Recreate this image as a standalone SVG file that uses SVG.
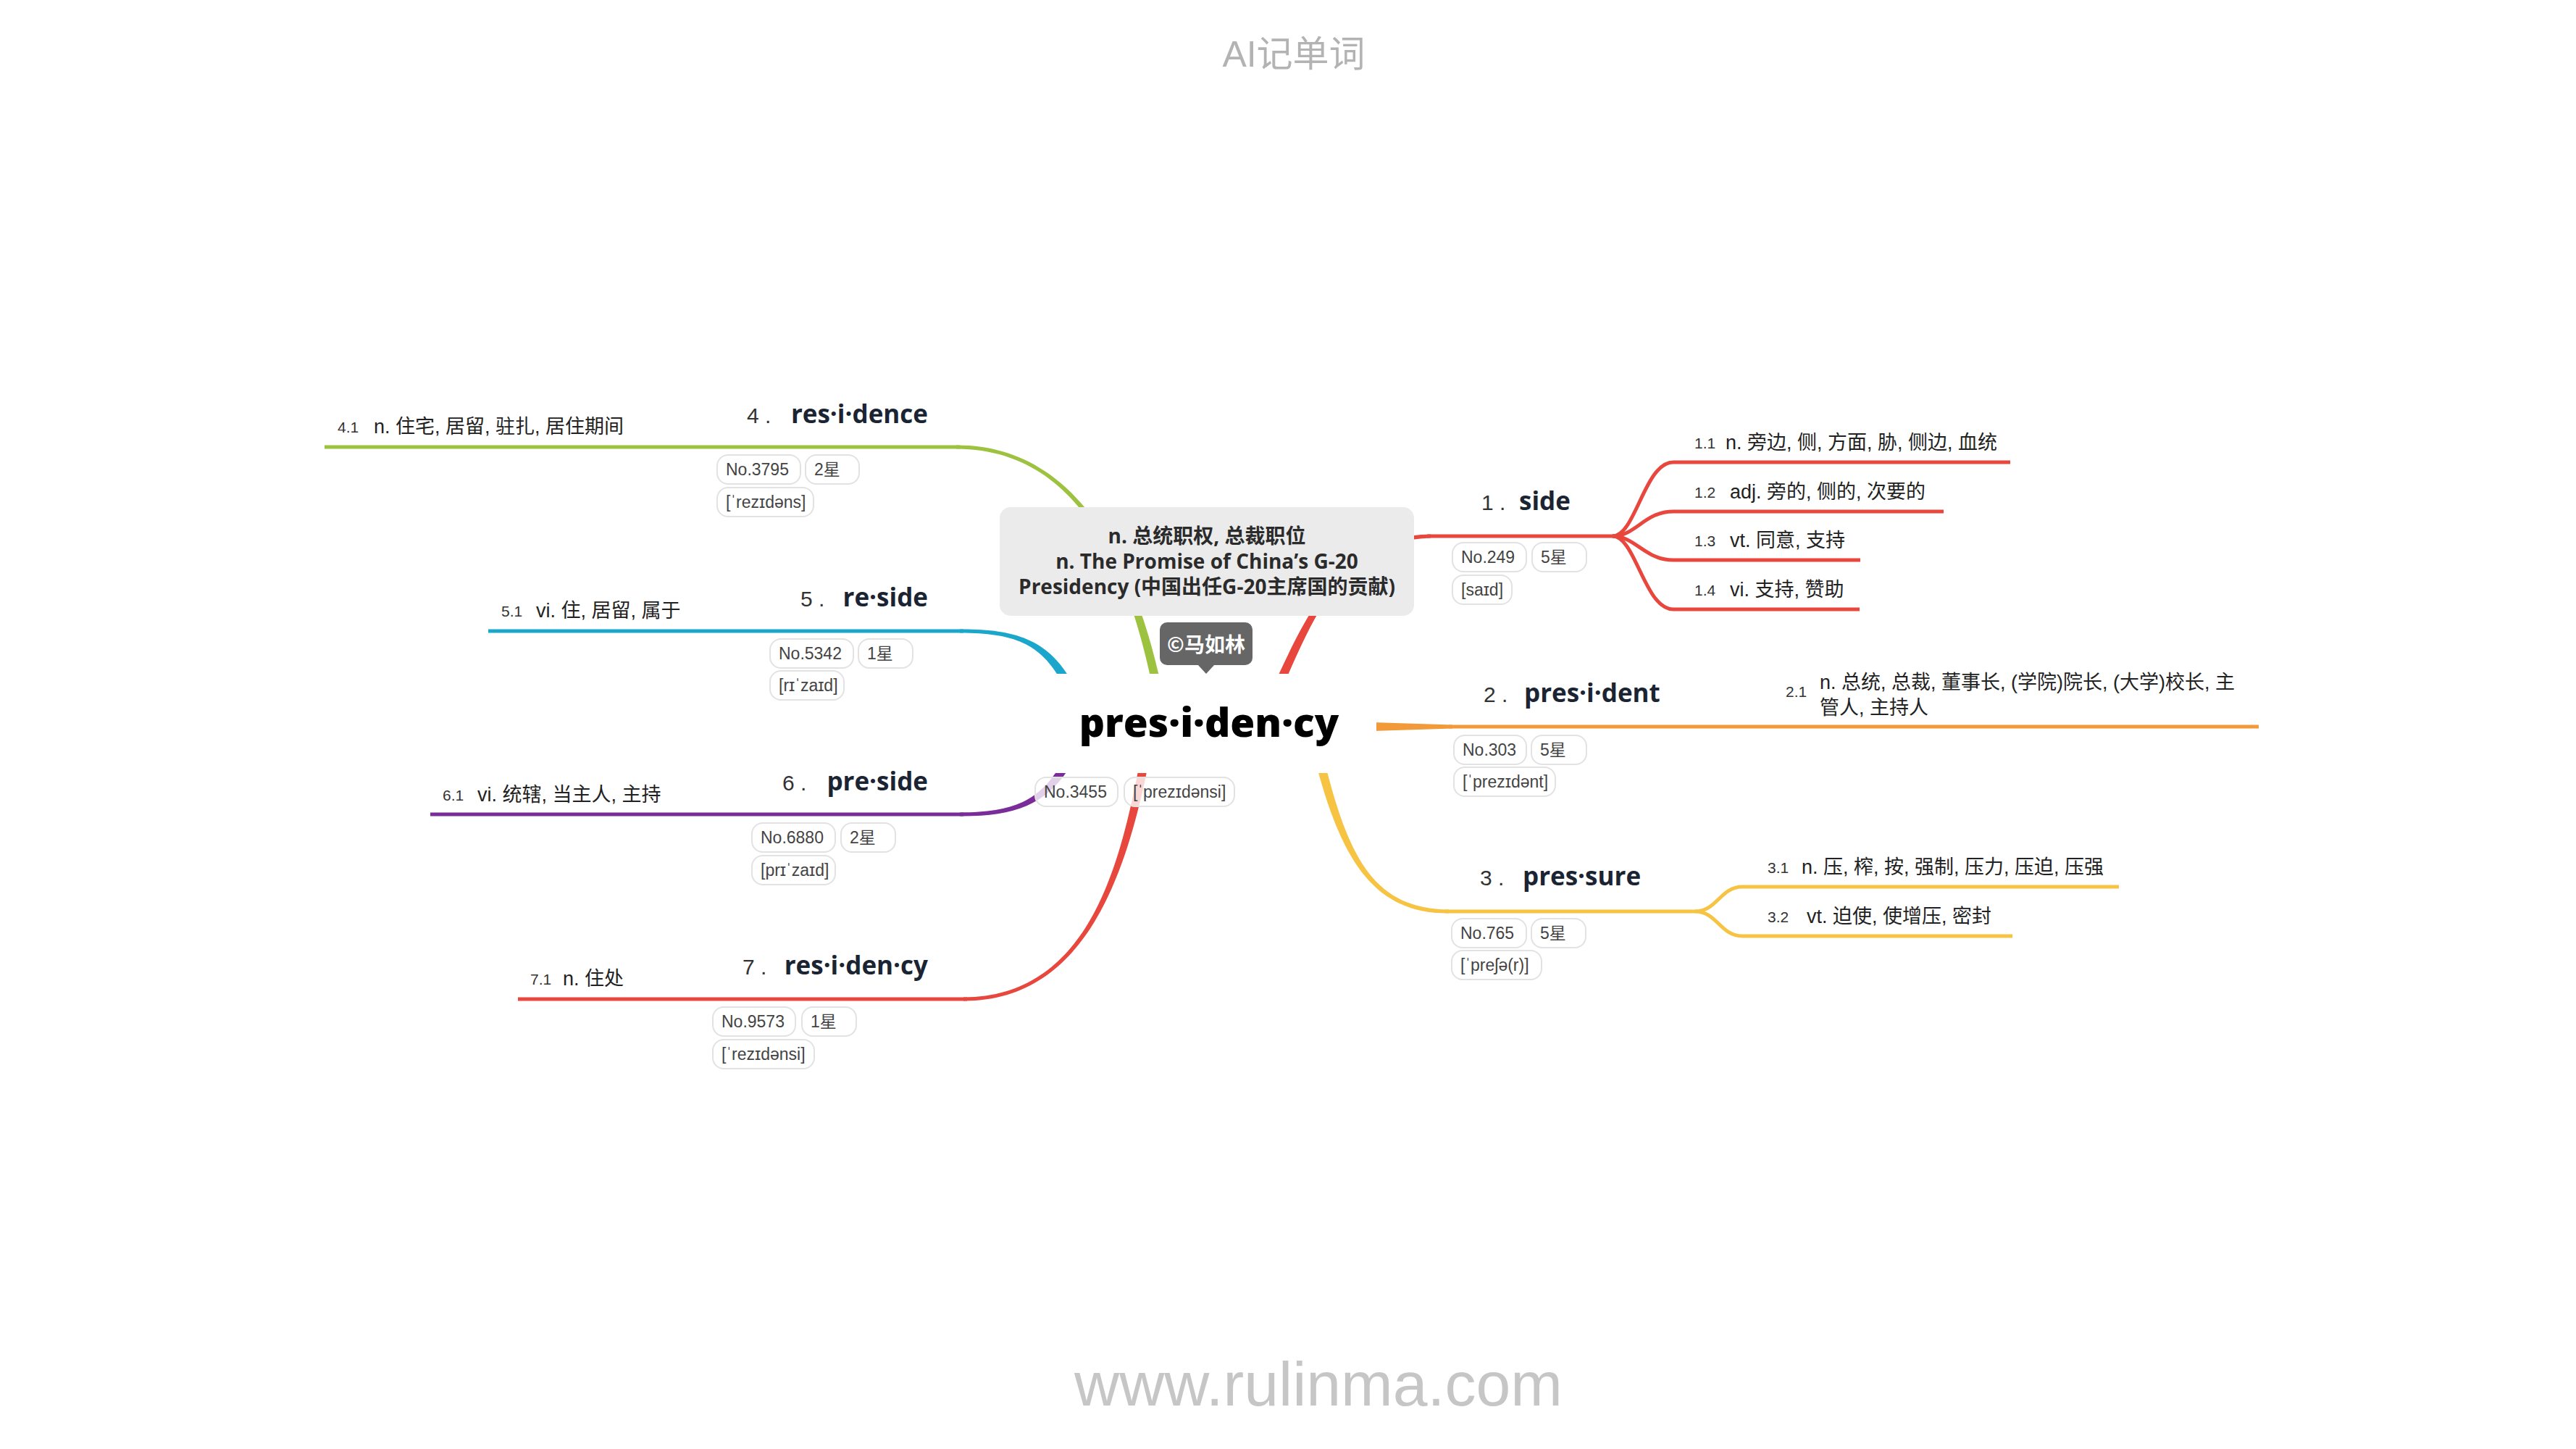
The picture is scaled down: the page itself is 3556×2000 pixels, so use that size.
<svg xmlns="http://www.w3.org/2000/svg" width="3556" height="2000" viewBox="0 0 3556 2000">
<style>
.w{font-family:"Open Sans","Noto Sans",sans-serif;font-weight:700;font-size:35px;fill:#1b2433}
.num{font-family:"Liberation Sans",sans-serif;font-size:30px;fill:#333}
.sn{font-family:"Liberation Sans",sans-serif;font-size:21px;fill:#333}
.st{font-family:"Liberation Sans","Noto Sans CJK SC",sans-serif;font-size:27px;fill:#222}
.pill{fill:#fff;fill-opacity:0.78;stroke:#e2e2e2;stroke-width:2}
.pt{font-family:"Liberation Sans","DejaVu Sans","Noto Sans CJK SC",sans-serif;font-size:23px;fill:#444}
.ul{fill:none;stroke-width:5}
.red{stroke:#e8473d}.redf{fill:#e8473d}
.org{stroke:#f29a3a}.orgf{fill:#f29a3a}
.yel{stroke:#f6c343}.yelf{fill:#f6c343}
.grn{stroke:#9dc23f}.grnf{fill:#9dc23f}
.blu{stroke:#1ba7cb}.bluf{fill:#1ba7cb}
.pur{stroke:#7a2c98}.purf{fill:#7a2c98}
.ctr{font-family:"Open Sans","Noto Sans","Noto Sans CJK SC",sans-serif;font-weight:700;font-size:28px;fill:#2b2b2b}
</style>
<rect width="3556" height="2000" fill="#fff"/>
<text x="1786" y="92" text-anchor="middle" font-family="Liberation Sans,Noto Sans CJK SC,sans-serif" font-size="50" fill="#b3b3b3">AI记单词</text>
<g id="connectors">
<path class="redf" d="M1774.5,939.5 C1819.6,837.1 1860,745.5 1975,742.5 L1975,737.5 C1860,738.5 1810.4,833 1763.5,934.5 Z"/>
<path class="ul red" d="M1970,740 L2226,740"/>
<path class="ul red" d="M2226,740 C2258,740 2270,638 2310,638 L2775,638"/>
<path class="ul red" d="M2226,740 C2258,740 2270,706 2310,706 L2683,706"/>
<path class="ul red" d="M2226,740 C2258,740 2270,773 2310,773 L2568,773"/>
<path class="ul red" d="M2226,740 C2258,740 2270,841 2310,841 L2567,841"/>
<path class="orgf" d="M1895,997 L2005,1000.5 L2005,1005.5 L1895,1009 Z"/>
<path class="ul org" d="M2000,1003 L3118,1003"/>
<path class="yelf" d="M1819.2,1063.5 C1854.2,1191.3 1900,1261.5 2000,1260.5 L2000,1255.5 C1900,1254.5 1863.8,1188.7 1830.8,1060.5 Z"/>
<path class="ul yel" d="M1995,1258 L2340,1258"/>
<path class="ul yel" d="M2340,1258 C2370,1258 2375,1224 2405,1224 L2925,1224"/>
<path class="ul yel" d="M2340,1258 C2370,1258 2375,1292 2405,1292 L2778,1292"/>
<path class="grnf" d="M1600.8,936.7 C1561.9,763.9 1480,614 1320,614.5 L1320,619.5 C1480,620 1552.1,766.1 1589.2,939.4 Z"/>
<path class="ul grn" d="M1325,617 L448,617"/>
<path class="bluf" d="M1476.2,935 C1444.3,882.5 1400,868 1325,868.5 L1325,873.5 C1400,874 1435.7,887.5 1465.8,941 Z"/>
<path class="ul blu" d="M1330,871 L674,871"/>
<path class="purf" d="M1464.9,1054.8 C1434.75,1105.4 1400,1121 1325,1121.5 L1325,1126.5 C1400,1127 1443.25,1110.6 1475.1,1061.2 Z"/>
<path class="ul pur" d="M1330,1124 L594,1124"/>
<path class="redf" d="M1572.1,1058.8 C1545.1,1199 1500,1376 1330,1376.5 L1330,1381.5 C1500,1382 1554.9,1201 1583.9,1061.2 Z"/>
<path class="ul red" d="M1335,1379 L715,1379"/>
</g>
<g id="center">
<rect x="1440" y="930" width="460" height="137" fill="#fff"/>
<text x="1669" y="1017" text-anchor="middle" font-family="Open Sans,Noto Sans,sans-serif" font-weight="800" font-size="55" fill="#000">pres·i·den·cy</text>
<rect class="pill" x="1429" y="1073" width="114" height="40" rx="15"/>
<text class="pt" x="1441" y="1101">No.3455</text>
<rect class="pill" x="1552" y="1073" width="152" height="40" rx="15"/>
<text class="pt" x="1564" y="1101">[ˈprezɪdənsi]</text>
</g>
<g id="definition">
<rect x="1380" y="700" width="572" height="150" rx="15" fill="#ebebeb"/>
<text class="ctr" x="1666" y="750" text-anchor="middle">n. 总统职权, 总裁职位</text>
<text class="ctr" x="1666" y="785" text-anchor="middle">n. The Promise of China’s G-20</text>
<text class="ctr" x="1666" y="820" text-anchor="middle">Presidency (中国出任G-20主席国的贡献)</text>
</g>
<g id="author">
<rect x="1601" y="859" width="128" height="59" rx="10" fill="#666"/>
<path d="M1653,917 L1665,930 L1677,917 Z" fill="#666"/>
<text x="1665" y="900" text-anchor="middle" font-family="Noto Sans CJK SC,sans-serif" font-weight="700" font-size="28" fill="#fff">©马如林</text>
</g>
<g id="node1">
<text class="num" x="2045" y="704">1 .</text>
<text class="w" x="2097" y="704">side</text>
<rect class="pill" x="2005" y="749" width="102" height="40" rx="15"/>
<text class="pt" x="2017" y="777">No.249</text>
<rect class="pill" x="2115" y="749" width="75" height="40" rx="15"/>
<text class="pt" x="2127" y="777">5星</text>
<rect class="pill" x="2005" y="794" width="82" height="40" rx="15"/>
<text class="pt" x="2017" y="822">[saɪd]</text>
</g>
<g id="node1-1"><text class="sn" x="2339" y="619">1.1</text><text class="st" x="2382" y="620">n. 旁边, 侧, 方面, 胁, 侧边, 血统</text></g>
<g id="node1-2"><text class="sn" x="2339" y="687">1.2</text><text class="st" x="2388" y="688">adj. 旁的, 侧的, 次要的</text></g>
<g id="node1-3"><text class="sn" x="2339" y="754">1.3</text><text class="st" x="2388" y="755">vt. 同意, 支持</text></g>
<g id="node1-4"><text class="sn" x="2339" y="822">1.4</text><text class="st" x="2388" y="823">vi. 支持, 赞助</text></g>
<g id="node2">
<text class="num" x="2048" y="969">2 .</text>
<text class="w" x="2104" y="969">pres·i·dent</text>
<rect class="pill" x="2007" y="1015" width="100" height="40" rx="15"/>
<text class="pt" x="2019" y="1043">No.303</text>
<rect class="pill" x="2114" y="1015" width="76" height="40" rx="15"/>
<text class="pt" x="2126" y="1043">5星</text>
<rect class="pill" x="2007" y="1059" width="140" height="40" rx="15"/>
<text class="pt" x="2019" y="1087">[ˈprezɪdənt]</text>
</g>
<g id="node2-1"><text class="sn" x="2465" y="962">2.1</text><text class="st" x="2512" y="951">n. 总统, 总裁, 董事长, (学院)院长, (大学)校长, 主</text><text class="st" x="2512" y="986">管人, 主持人</text></g>
<g id="node3">
<text class="num" x="2043" y="1222">3 .</text>
<text class="w" x="2102" y="1222">pres·sure</text>
<rect class="pill" x="2004" y="1268" width="103" height="40" rx="15"/>
<text class="pt" x="2016" y="1296">No.765</text>
<rect class="pill" x="2114" y="1268" width="75" height="40" rx="15"/>
<text class="pt" x="2126" y="1296">5星</text>
<rect class="pill" x="2004" y="1312" width="124" height="40" rx="15"/>
<text class="pt" x="2016" y="1340">[ˈpreʃə(r)]</text>
</g>
<g id="node3-1"><text class="sn" x="2440" y="1205">3.1</text><text class="st" x="2487" y="1206">n. 压, 榨, 按, 强制, 压力, 压迫, 压强</text></g>
<g id="node3-2"><text class="sn" x="2440" y="1273">3.2</text><text class="st" x="2494" y="1274">vt. 迫使, 使增压, 密封</text></g>
<g id="node4">
<text class="num" x="1031" y="584">4 .</text>
<text class="w" x="1281" y="584" text-anchor="end">res·i·dence</text>
<rect class="pill" x="990" y="628" width="115" height="40" rx="15"/>
<text class="pt" x="1002" y="656">No.3795</text>
<rect class="pill" x="1112" y="628" width="74" height="40" rx="15"/>
<text class="pt" x="1124" y="656">2星</text>
<rect class="pill" x="990" y="673" width="133" height="40" rx="15"/>
<text class="pt" x="1002" y="701">[ˈrezɪdəns]</text>
</g>
<g id="node4-1"><text class="sn" x="466" y="597">4.1</text><text class="st" x="516" y="598">n. 住宅, 居留, 驻扎, 居住期间</text></g>
<g id="node5">
<text class="num" x="1105" y="837">5 .</text>
<text class="w" x="1281" y="837" text-anchor="end">re·side</text>
<rect class="pill" x="1063" y="882" width="115" height="40" rx="15"/>
<text class="pt" x="1075" y="910">No.5342</text>
<rect class="pill" x="1185" y="882" width="75" height="40" rx="15"/>
<text class="pt" x="1197" y="910">1星</text>
<rect class="pill" x="1063" y="926" width="102" height="40" rx="15"/>
<text class="pt" x="1075" y="954">[rɪˈzaɪd]</text>
</g>
<g id="node5-1"><text class="sn" x="692" y="851">5.1</text><text class="st" x="740" y="852">vi. 住, 居留, 属于</text></g>
<g id="node6">
<text class="num" x="1080" y="1091">6 .</text>
<text class="w" x="1281" y="1091" text-anchor="end">pre·side</text>
<rect class="pill" x="1038" y="1136" width="115" height="40" rx="15"/>
<text class="pt" x="1050" y="1164">No.6880</text>
<rect class="pill" x="1161" y="1136" width="75" height="40" rx="15"/>
<text class="pt" x="1173" y="1164">2星</text>
<rect class="pill" x="1038" y="1181" width="115" height="40" rx="15"/>
<text class="pt" x="1050" y="1209">[prɪˈzaɪd]</text>
</g>
<g id="node6-1"><text class="sn" x="611" y="1105">6.1</text><text class="st" x="659" y="1106">vi. 统辖, 当主人, 主持</text></g>
<g id="node7">
<text class="num" x="1025" y="1345">7 .</text>
<text class="w" x="1281" y="1345" text-anchor="end">res·i·den·cy</text>
<rect class="pill" x="984" y="1390" width="114" height="40" rx="15"/>
<text class="pt" x="996" y="1418">No.9573</text>
<rect class="pill" x="1107" y="1390" width="75" height="40" rx="15"/>
<text class="pt" x="1119" y="1418">1星</text>
<rect class="pill" x="984" y="1435" width="140" height="40" rx="15"/>
<text class="pt" x="996" y="1463">[ˈrezɪdənsi]</text>
</g>
<g id="node7-1"><text class="sn" x="732" y="1359">7.1</text><text class="st" x="777" y="1360">n. 住处</text></g>
<text x="1820" y="1940" text-anchor="middle" font-family="Liberation Sans,sans-serif" font-size="86" fill="#c6c6c6">www.rulinma.com</text>
</svg>
